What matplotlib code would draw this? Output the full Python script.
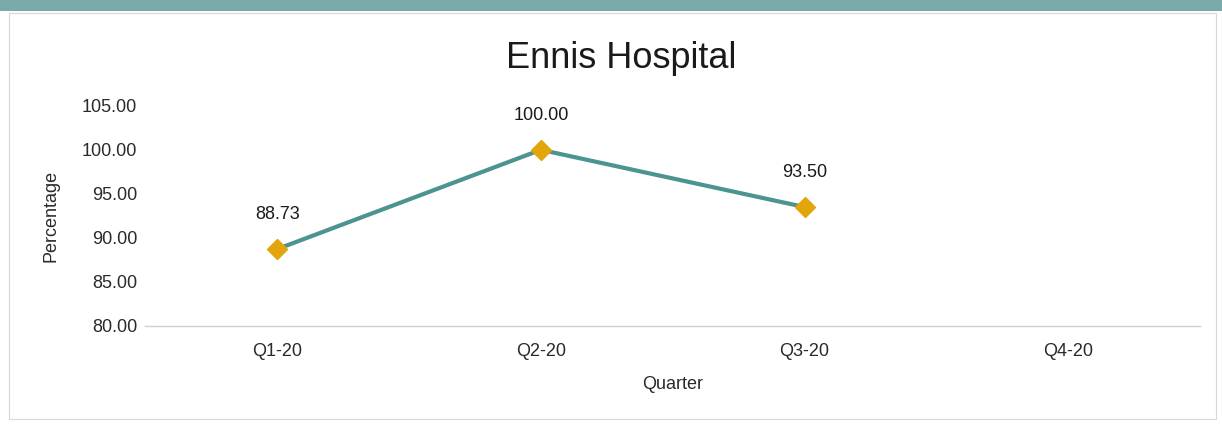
import matplotlib
matplotlib.use("Agg")
import matplotlib.pyplot as plt
from matplotlib.patches import Rectangle

quarters = ["Q1-20", "Q2-20", "Q3-20", "Q4-20"]
values = [88.73, 100.00, 93.50]
yticks = [80, 85, 90, 95, 100, 105]

plt.rcParams['font.family'] = ['Liberation Sans', 'DejaVu Sans']

fig = plt.figure(figsize=(12.22, 4.30), dpi=100)
fig.patch.set_facecolor('white')

# scan strip at top and chart frame
fig.add_artist(Rectangle((0, 0.975), 1, 0.025, transform=fig.transFigure,
                         facecolor='#7aa9aa', edgecolor='none'))
fig.add_artist(Rectangle((0.007, 0.025), 0.988, 0.945, transform=fig.transFigure,
                         facecolor='none', edgecolor='#d8d8d8', linewidth=0.8))

ax = fig.add_axes([0.119, 0.242, 0.863, 0.512])
x = list(range(len(values)))
ax.plot(x, values, color='#4b9490', linewidth=3, zorder=2)
ax.plot(x, values, linestyle='none', marker='D', markersize=10,
        markerfacecolor='#E3A50C', markeredgecolor='#E3A50C', zorder=3)
for xi, v in zip(x, values):
    ax.annotate(f"{v:.2f}", (xi, v), xytext=(0, 25), textcoords='offset points',
                ha='center', va='center', fontsize=13, color='#1a1a1a')

ax.set_xlim(-0.5, 3.5)
ax.set_ylim(80, 105)
ax.set_xticks(range(len(quarters)))
ax.set_xticklabels(quarters, fontsize=13, color='#2a2a2a')
ax.set_yticks(yticks)
ax.set_yticklabels([f"{t:.2f}" for t in yticks], fontsize=13, color='#2a2a2a')
ax.tick_params(axis='x', length=0, pad=12)
ax.tick_params(axis='y', length=0, pad=6)
for s in ['top', 'right', 'left']:
    ax.spines[s].set_visible(False)
ax.spines['bottom'].set_color('#cfcfcf')
ax.spines['bottom'].set_linewidth(1)

ax.set_xlabel("Quarter", fontsize=13, color='#2a2a2a', labelpad=12)
ax.set_ylabel("Percentage", fontsize=13, color='#2a2a2a', labelpad=16)
fig.text(0.508, 0.865, "Ennis Hospital", ha='center', va='center', fontsize=26, color='#1a1a1a')

fig.savefig("out.png", dpi=100)
